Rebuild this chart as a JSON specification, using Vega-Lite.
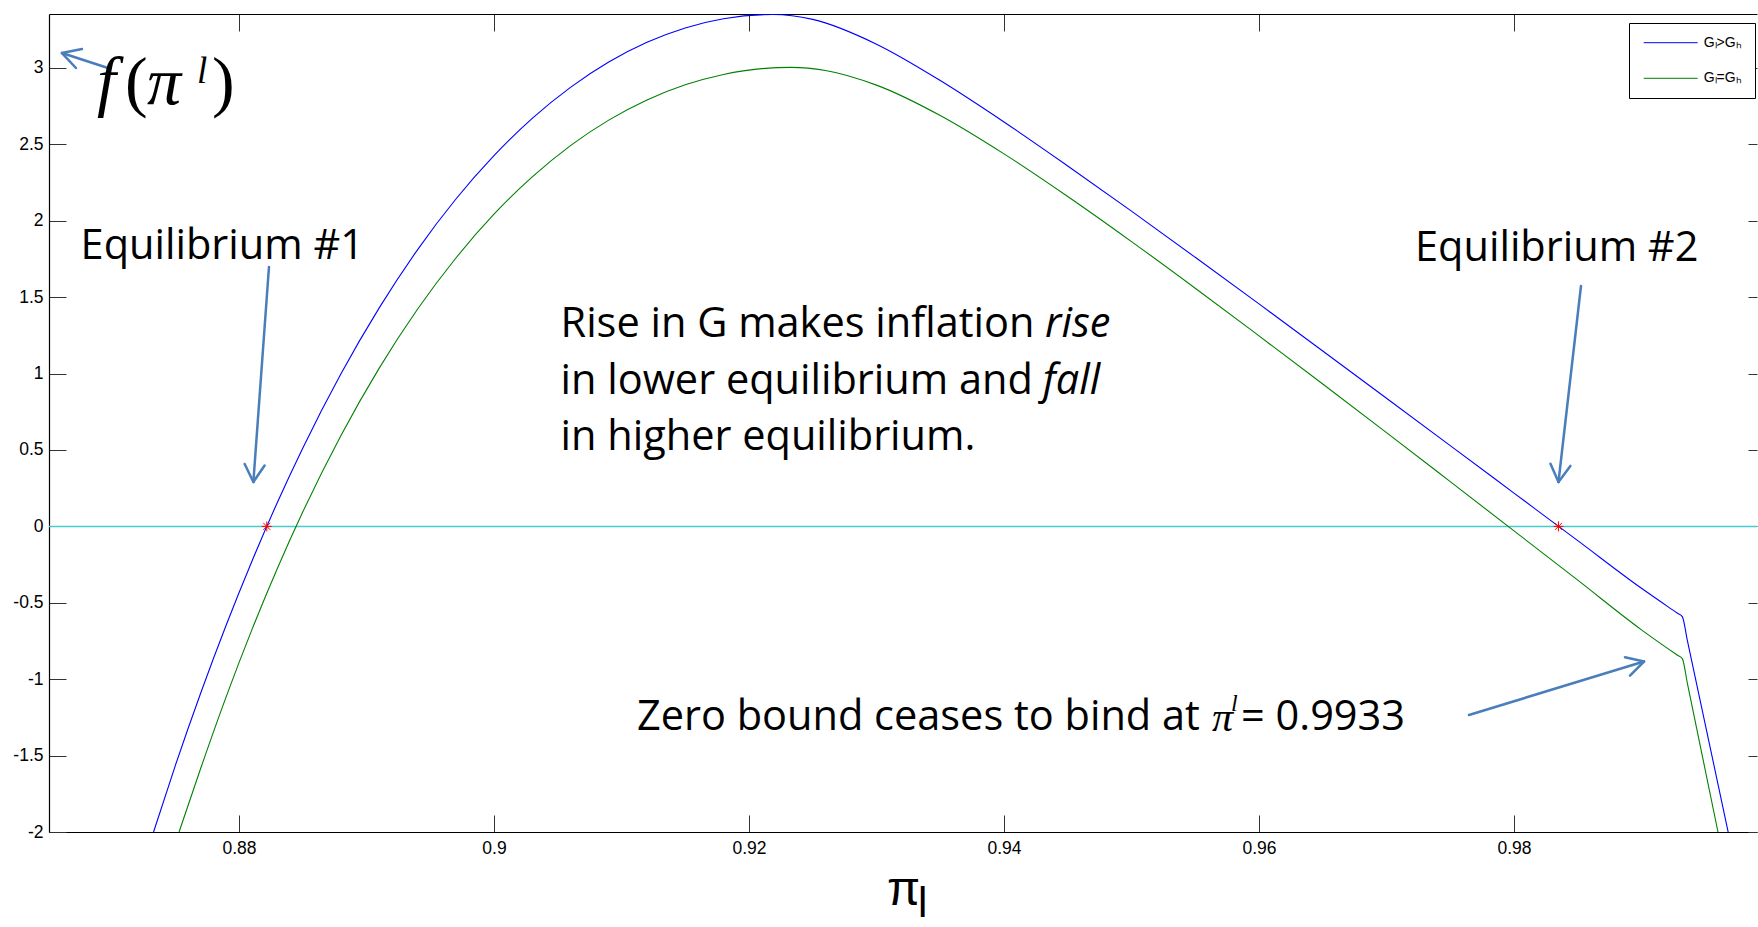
{
  "$schema": "https://vega.github.io/schema/vega-lite/v6.json",
  "width": 1708,
  "height": 818,
  "autosize": {"type": "none"},
  "padding": {"left": 49, "top": 14, "right": 1, "bottom": 95},
  "background": "white",
  "config": {
    "view": {"stroke": null},
    "axis": {"labelFont": "Liberation Sans", "labelFontSize": 17.5, "labelColor": "black", "domainColor": "black", "domainWidth": 1.2, "tickColor": "#333333", "grid": false},
    "legend": {
      "orient": "none", "legendX": 1580, "legendY": 9,
      "strokeColor": "black", "fillColor": "white", "padding": 12.7, "rowPadding": 21.6,
      "symbolType": "M-1,0H9.8", "symbolSize": 100, "symbolStrokeWidth": 1,
      "labelFont": "Liberation Sans", "labelFontSize": 14, "labelOffset": 48, "labelColor": "black"
    }
  },
  "datasets": {
    "curves": [
      {"s": "Gₗ>Gₕ", "x": 0.8733, "y": -2.0},
      {"s": "Gₗ>Gₕ", "x": 0.875, "y": -1.567},
      {"s": "Gₗ>Gₕ", "x": 0.877, "y": -1.09},
      {"s": "Gₗ>Gₕ", "x": 0.879, "y": -0.645},
      {"s": "Gₗ>Gₕ", "x": 0.881, "y": -0.231},
      {"s": "Gₗ>Gₕ", "x": 0.883, "y": 0.155},
      {"s": "Gₗ>Gₕ", "x": 0.885, "y": 0.512},
      {"s": "Gₗ>Gₕ", "x": 0.888, "y": 0.999},
      {"s": "Gₗ>Gₕ", "x": 0.891, "y": 1.43},
      {"s": "Gₗ>Gₕ", "x": 0.894, "y": 1.81},
      {"s": "Gₗ>Gₕ", "x": 0.897, "y": 2.141},
      {"s": "Gₗ>Gₕ", "x": 0.9, "y": 2.426},
      {"s": "Gₗ>Gₕ", "x": 0.903, "y": 2.67},
      {"s": "Gₗ>Gₕ", "x": 0.906, "y": 2.873},
      {"s": "Gₗ>Gₕ", "x": 0.909, "y": 3.039},
      {"s": "Gₗ>Gₕ", "x": 0.912, "y": 3.168},
      {"s": "Gₗ>Gₕ", "x": 0.915, "y": 3.262},
      {"s": "Gₗ>Gₕ", "x": 0.918, "y": 3.322},
      {"s": "Gₗ>Gₕ", "x": 0.9219, "y": 3.35},
      {"s": "Gₗ>Gₕ", "x": 0.925, "y": 3.318},
      {"s": "Gₗ>Gₕ", "x": 0.93, "y": 3.156},
      {"s": "Gₗ>Gₕ", "x": 0.935, "y": 2.918},
      {"s": "Gₗ>Gₕ", "x": 0.94, "y": 2.647},
      {"s": "Gₗ>Gₕ", "x": 0.945, "y": 2.359},
      {"s": "Gₗ>Gₕ", "x": 0.95, "y": 2.063},
      {"s": "Gₗ>Gₕ", "x": 0.955, "y": 1.761},
      {"s": "Gₗ>Gₕ", "x": 0.96, "y": 1.456},
      {"s": "Gₗ>Gₕ", "x": 0.965, "y": 1.148},
      {"s": "Gₗ>Gₕ", "x": 0.97, "y": 0.839},
      {"s": "Gₗ>Gₕ", "x": 0.975, "y": 0.529},
      {"s": "Gₗ>Gₕ", "x": 0.98, "y": 0.218},
      {"s": "Gₗ>Gₕ", "x": 0.985, "y": -0.093},
      {"s": "Gₗ>Gₕ", "x": 0.99, "y": -0.405},
      {"s": "Gₗ>Gₕ", "x": 0.9928, "y": -0.567},
      {"s": "Gₗ>Gₕ", "x": 0.9932, "y": -0.59},
      {"s": "Gₗ>Gₕ", "x": 0.9936, "y": -0.747},
      {"s": "Gₗ>Gₕ", "x": 0.9968, "y": -2.0},
      {"s": "Gₗ=Gₕ", "x": 0.8753, "y": -2.0},
      {"s": "Gₗ=Gₕ", "x": 0.877, "y": -1.583},
      {"s": "Gₗ=Gₕ", "x": 0.879, "y": -1.114},
      {"s": "Gₗ=Gₕ", "x": 0.881, "y": -0.679},
      {"s": "Gₗ=Gₕ", "x": 0.883, "y": -0.277},
      {"s": "Gₗ=Gₕ", "x": 0.885, "y": 0.094},
      {"s": "Gₗ=Gₕ", "x": 0.888, "y": 0.595},
      {"s": "Gₗ=Gₕ", "x": 0.891, "y": 1.036},
      {"s": "Gₗ=Gₕ", "x": 0.894, "y": 1.421},
      {"s": "Gₗ=Gₕ", "x": 0.897, "y": 1.755},
      {"s": "Gₗ=Gₕ", "x": 0.9, "y": 2.043},
      {"s": "Gₗ=Gₕ", "x": 0.903, "y": 2.287},
      {"s": "Gₗ=Gₕ", "x": 0.906, "y": 2.492},
      {"s": "Gₗ=Gₕ", "x": 0.909, "y": 2.659},
      {"s": "Gₗ=Gₕ", "x": 0.912, "y": 2.791},
      {"s": "Gₗ=Gₕ", "x": 0.915, "y": 2.89},
      {"s": "Gₗ=Gₕ", "x": 0.918, "y": 2.958},
      {"s": "Gₗ=Gₕ", "x": 0.921, "y": 2.996},
      {"s": "Gₗ=Gₕ", "x": 0.9233, "y": 3.004},
      {"s": "Gₗ=Gₕ", "x": 0.926, "y": 2.984},
      {"s": "Gₗ=Gₕ", "x": 0.93, "y": 2.888},
      {"s": "Gₗ=Gₕ", "x": 0.935, "y": 2.689},
      {"s": "Gₗ=Gₕ", "x": 0.94, "y": 2.438},
      {"s": "Gₗ=Gₕ", "x": 0.945, "y": 2.159},
      {"s": "Gₗ=Gₕ", "x": 0.95, "y": 1.864},
      {"s": "Gₗ=Gₕ", "x": 0.955, "y": 1.559},
      {"s": "Gₗ=Gₕ", "x": 0.96, "y": 1.247},
      {"s": "Gₗ=Gₕ", "x": 0.965, "y": 0.932},
      {"s": "Gₗ=Gₕ", "x": 0.97, "y": 0.614},
      {"s": "Gₗ=Gₕ", "x": 0.975, "y": 0.293},
      {"s": "Gₗ=Gₕ", "x": 0.98, "y": -0.029},
      {"s": "Gₗ=Gₕ", "x": 0.985, "y": -0.352},
      {"s": "Gₗ=Gₕ", "x": 0.99, "y": -0.677},
      {"s": "Gₗ=Gₕ", "x": 0.9928, "y": -0.842},
      {"s": "Gₗ=Gₕ", "x": 0.9932, "y": -0.865},
      {"s": "Gₗ=Gₕ", "x": 0.9936, "y": -1.027},
      {"s": "Gₗ=Gₕ", "x": 0.996, "y": -2.0}
    ],
    "arrows": [
      {"x": 0.869725, "y": 3.0, "x2": 0.866118, "y2": 3.098},
      {"x": 0.866118, "y": 3.098, "x2": 0.867686, "y2": 3.124},
      {"x": 0.866118, "y": 3.098, "x2": 0.867216, "y2": 3.0},
      {"x": 0.882353, "y": 1.6976, "x2": 0.881129, "y2": 0.2906},
      {"x": 0.881129, "y": 0.2906, "x2": 0.882008, "y2": 0.3986},
      {"x": 0.881129, "y": 0.2906, "x2": 0.880447, "y2": 0.4084},
      {"x": 0.985255, "y": 1.5733, "x2": 0.98349, "y2": 0.2906},
      {"x": 0.98349, "y": 0.2906, "x2": 0.984424, "y2": 0.3959},
      {"x": 0.98349, "y": 0.2906, "x2": 0.982862, "y2": 0.4103},
      {"x": 0.97647, "y": -1.2343, "x2": 0.990196, "y2": -0.8842},
      {"x": 0.990196, "y": -0.8842, "x2": 0.988706, "y2": -0.8567},
      {"x": 0.990196, "y": -0.8842, "x2": 0.989098, "y2": -0.9771}
    ],
    "stars": [
      {"x": 0.88218, "y": 0},
      {"x": 0.98349, "y": 0}
    ]
  },
  "resolve": {"axis": {"x": "independent", "y": "independent"}},
  "layer": [
    {
      "data": {"values": [{"zero": 0}]},
      "mark": {"type": "rule", "color": "#45cccc", "strokeWidth": 1.5},
      "encoding": {
        "y": {"field": "zero", "type": "quantitative", "axis": null, "scale": {"domain": [-2, 3.3534], "nice": false, "zero": false}}
      }
    },
    {
      "data": {"name": "curves"},
      "mark": {"type": "line", "strokeWidth": 1.1, "interpolate": "monotone"},
      "encoding": {
        "x": {"field": "x", "type": "quantitative", "scale": {"domain": [0.8651, 0.99906], "nice": false, "zero": false},
          "axis": {"orient": "bottom", "values": [0.88, 0.9, 0.92, 0.94, 0.96, 0.98], "tickSize": -17, "labelPadding": 24, "labelExpr": "'' + datum.value",
            "title": "π", "titleFont": "Liberation Sans", "titleFontSize": 48, "titleFontWeight": "normal", "titleColor": "black", "titleBaseline": "alphabetic", "titleY": 72}},
        "y": {"field": "y", "type": "quantitative", "scale": {"domain": [-2, 3.3534], "nice": false, "zero": false},
          "axis": {"orient": "left", "values": [-2, -1.5, -1, -0.5, 0, 0.5, 1, 1.5, 2, 2.5, 3], "tickSize": -17, "labelPadding": 23, "labelExpr": "'' + datum.value", "title": null}},
        "color": {"field": "s", "type": "nominal", "scale": {"domain": ["Gₗ>Gₕ", "Gₗ=Gₕ"], "range": ["#0000ff", "#008000"]}, "legend": {"title": null}},
        "order": {"field": "x", "type": "quantitative"}
      }
    },
    {
      "data": {"name": "arrows"},
      "mark": {"type": "rule", "color": "#4a7ebb", "strokeWidth": 2.5, "strokeCap": "round"},
      "encoding": {
        "x": {"field": "x", "type": "quantitative", "axis": null, "scale": {"domain": [0.8651, 0.99906], "nice": false, "zero": false}},
        "y": {"field": "y", "type": "quantitative", "axis": null, "scale": {"domain": [-2, 3.3534], "nice": false, "zero": false}},
        "x2": {"field": "x2"},
        "y2": {"field": "y2"}
      }
    },
    {
      "data": {"name": "stars"},
      "mark": {"type": "point", "shape": "M-1,0L1,0M0,-1L0,1M-0.7,-0.7L0.7,0.7M-0.7,0.7L0.7,-0.7", "filled": false, "stroke": "red", "strokeWidth": 1, "size": 100, "opacity": 1},
      "encoding": {
        "x": {"field": "x", "type": "quantitative", "scale": {"domain": [0.8651, 0.99906], "nice": false, "zero": false},
          "axis": {"orient": "top", "values": [0.88, 0.9, 0.92, 0.94, 0.96, 0.98], "tickSize": -17, "labels": false, "title": null}},
        "y": {"field": "y", "type": "quantitative", "scale": {"domain": [-2, 3.3534], "nice": false, "zero": false},
          "axis": {"orient": "right", "values": [-2, -1.5, -1, -0.5, 0, 0.5, 1, 1.5, 2, 2.5, 3], "tickSize": -9, "labels": false, "domain": false, "title": null}}
      }
    },
    {
      "data": {"values": [
        {"t": "Equilibrium #1", "x": 0.86758, "y": 1.83},
        {"t": "Equilibrium #2", "x": 0.97224, "y": 1.816},
        {"t": "Rise in G makes inflation", "x": 0.90522, "y": 1.318},
        {"t": "in lower equilibrium and", "x": 0.90522, "y": 0.945},
        {"t": "in higher equilibrium.", "x": 0.90522, "y": 0.578},
        {"t": "Zero bound ceases to bind at", "x": 0.91121, "y": -1.251},
        {"t": "= 0.9933", "x": 0.95859, "y": -1.251}
      ]},
      "mark": {"type": "text", "font": "Open Sans", "fontSize": 41.5, "align": "left", "baseline": "middle", "color": "black"},
      "encoding": {
        "x": {"field": "x", "type": "quantitative", "axis": null, "scale": {"domain": [0.8651, 0.99906], "nice": false, "zero": false}},
        "y": {"field": "y", "type": "quantitative", "axis": null, "scale": {"domain": [-2, 3.3534], "nice": false, "zero": false}},
        "text": {"field": "t"}
      }
    },
    {
      "data": {"values": [
        {"t": "rise", "x": 0.94322, "y": 1.318},
        {"t": "fall", "x": 0.94304, "y": 0.945}
      ]},
      "mark": {"type": "text", "font": "Open Sans", "fontSize": 41.5, "fontStyle": "italic", "align": "left", "baseline": "middle", "color": "black"},
      "encoding": {
        "x": {"field": "x", "type": "quantitative", "axis": null, "scale": {"domain": [0.8651, 0.99906], "nice": false, "zero": false}},
        "y": {"field": "y", "type": "quantitative", "axis": null, "scale": {"domain": [-2, 3.3534], "nice": false, "zero": false}},
        "text": {"field": "t"}
      }
    },
    {
      "data": {"values": [{"t": "π", "x": 0.95631, "y": -1.251}]},
      "mark": {"type": "text", "font": "Liberation Serif", "fontSize": 42, "fontStyle": "italic", "align": "left", "baseline": "middle", "color": "black"},
      "encoding": {
        "x": {"field": "x", "type": "quantitative", "axis": null, "scale": {"domain": [0.8651, 0.99906], "nice": false, "zero": false}},
        "y": {"field": "y", "type": "quantitative", "axis": null, "scale": {"domain": [-2, 3.3534], "nice": false, "zero": false}},
        "text": {"field": "t"}
      }
    },
    {
      "data": {"values": [{"t": "l", "x": 0.9578, "y": -1.162}]},
      "mark": {"type": "text", "font": "Liberation Serif", "fontSize": 24, "fontStyle": "italic", "align": "left", "baseline": "middle", "color": "black"},
      "encoding": {
        "x": {"field": "x", "type": "quantitative", "axis": null, "scale": {"domain": [0.8651, 0.99906], "nice": false, "zero": false}},
        "y": {"field": "y", "type": "quantitative", "axis": null, "scale": {"domain": [-2, 3.3534], "nice": false, "zero": false}},
        "text": {"field": "t"}
      }
    },
    {
      "data": {"values": [
        {"t": "f", "x": 0.868863, "y": 2.764},
        {"t": "π", "x": 0.872784, "y": 2.764}
      ]},
      "mark": {"type": "text", "font": "Liberation Serif", "fontSize": 68, "fontStyle": "italic", "align": "left", "baseline": "alphabetic", "color": "black"},
      "encoding": {
        "x": {"field": "x", "type": "quantitative", "axis": null, "scale": {"domain": [0.8651, 0.99906], "nice": false, "zero": false}},
        "y": {"field": "y", "type": "quantitative", "axis": null, "scale": {"domain": [-2, 3.3534], "nice": false, "zero": false}},
        "text": {"field": "t"}
      }
    },
    {
      "data": {"values": [
        {"t": "(", "x": 0.871059, "y": 2.764},
        {"t": ")", "x": 0.877882, "y": 2.764}
      ]},
      "mark": {"type": "text", "font": "Liberation Serif", "fontSize": 68, "align": "left", "baseline": "alphabetic", "color": "black"},
      "encoding": {
        "x": {"field": "x", "type": "quantitative", "axis": null, "scale": {"domain": [0.8651, 0.99906], "nice": false, "zero": false}},
        "y": {"field": "y", "type": "quantitative", "axis": null, "scale": {"domain": [-2, 3.3534], "nice": false, "zero": false}},
        "text": {"field": "t"}
      }
    },
    {
      "data": {"values": [{"t": "l", "x": 0.876706, "y": 2.902}]},
      "mark": {"type": "text", "font": "Liberation Serif", "fontSize": 37, "fontStyle": "italic", "align": "left", "baseline": "alphabetic", "color": "black"},
      "encoding": {
        "x": {"field": "x", "type": "quantitative", "axis": null, "scale": {"domain": [0.8651, 0.99906], "nice": false, "zero": false}},
        "y": {"field": "y", "type": "quantitative", "axis": null, "scale": {"domain": [-2, 3.3534], "nice": false, "zero": false}},
        "text": {"field": "t"}
      }
    },
    {
      "data": {"values": [{"t": "l", "x": 0.93325, "y": -2.555}]},
      "mark": {"type": "text", "font": "Liberation Sans", "fontSize": 42, "align": "left", "baseline": "alphabetic", "color": "black"},
      "encoding": {
        "x": {"field": "x", "type": "quantitative", "axis": null, "scale": {"domain": [0.8651, 0.99906], "nice": false, "zero": false}},
        "y": {"field": "y", "type": "quantitative", "axis": null, "scale": {"domain": [-2, 3.3534], "nice": false, "zero": false}},
        "text": {"field": "t"}
      }
    }
  ]
}
